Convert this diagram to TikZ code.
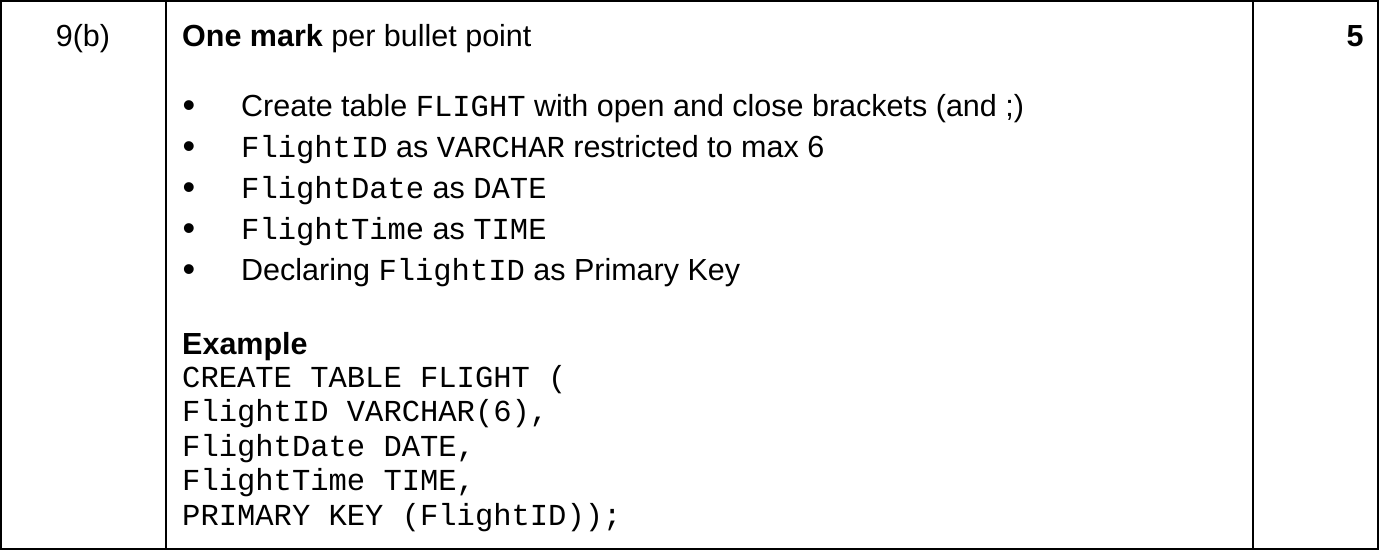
\documentclass[tikz,border=0pt]{standalone}
\usepackage{fontspec}
\setmainfont{Liberation Sans}
\setmonofont{Liberation Mono}
\newcommand{\mt}[1]{{\ttfamily\fontsize{30.5}{34}\selectfont #1}}
\begin{document}
\begin{tikzpicture}[x=1pt,y=-1pt,
  txt/.style={anchor=base west,inner sep=0pt,font=\fontsize{30.5}{34}\selectfont},
  code/.style={anchor=base west,inner sep=0pt,font=\ttfamily\fontsize{30.5}{34}\selectfont},
  bul/.style={anchor=base,inner sep=0pt,font=\fontsize{36}{40}\selectfont}]
\useasboundingbox (0,0) rectangle (1379,550);
\draw[line width=1.2pt] (1,1) rectangle (1378,549);
\draw[line width=1.2pt] (166,1) -- (166,549);
\draw[line width=1.2pt] (1253,1) -- (1253,549);
\node[anchor=base,inner sep=0pt,font=\fontsize{30.5}{34}\selectfont] (q) at (83,46) {9(b)};
\node[anchor=base,inner sep=0pt,font=\bfseries\fontsize{30.5}{34}\selectfont] (m) at (1355,46) {5};
\node[txt] (h) at (182,46) {\textbf{One mark} per bullet point};
\foreach \y/\n in {117/1,158/2,199/3,240/4,281/5}{
  \node[bul] (b\n) at (189,\y) {•};
}
\node[txt] (t1) at (241,116) {Create table \mt{FLIGHT} with open and close brackets (and ;)};
\node[txt] (t2) at (241,157) {\mt{FlightID} as \mt{VARCHAR} restricted to max 6};
\node[txt] (t3) at (241,198) {\mt{FlightDate} as \mt{DATE}};
\node[txt] (t4) at (241,239) {\mt{FlightTime} as \mt{TIME}};
\node[txt] (t5) at (241,280) {Declaring \mt{FlightID} as Primary Key};
\node[txt,font=\bfseries\fontsize{30.5}{34}\selectfont] (ex) at (182,354) {Example};
\node[code] (c1) at (182,387) {CREATE TABLE FLIGHT (};
\node[code] (c2) at (182,421) {FlightID VARCHAR(6),};
\node[code] (c3) at (182,456) {FlightDate DATE,};
\node[code] (c4) at (182,490) {FlightTime TIME,};
\node[code] (c5) at (182,525) {PRIMARY KEY (FlightID));};
\end{tikzpicture}
\end{document}
